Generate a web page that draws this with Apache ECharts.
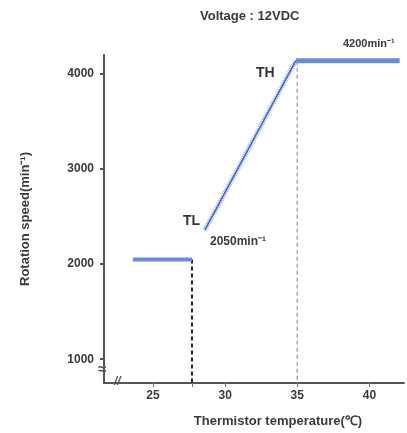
<!DOCTYPE html>
<html>
<head>
<meta charset="utf-8">
<script src="https://cdn.jsdelivr.net/npm/echarts@6/dist/echarts.min.js"></script>
<style>
  html, body { margin: 0; padding: 0; background: #fff; }
  #main { width: 407px; height: 433px; }
</style>
</head>
<body>
<div id="main"></div>
<script>
// temperature (℃) / rotation speed (min-1)
const lowTemp = [23.6, 27.7];
const lowSpeed = [2050, 2050];
const rampTemp = [28.6, 34.9];
const rampSpeed = [2360, 4140];
const highTemp = [34.9, 42.1];
const highSpeed = [4140, 4140];
const tlTemp = 27.7;
const thTemp = 35;
const xTicks = [25, 30, 35, 40];
const yTicks = [1000, 2000, 3000, 4000];

const pairs = (xs, ys) => xs.map((x, i) => [x, ys[i]]);
const font = "'Liberation Sans', Arial, sans-serif";
const textColor = '#3a3a3a';

const chart = echarts.init(document.getElementById('main'));
const option = {
  animation: false,
  grid: { left: 104, right: 3, top: 55, bottom: 50 },
  xAxis: {
    type: 'value',
    min: 21.6,
    max: 42.4,
    splitLine: { show: false },
    axisLine: { lineStyle: { color: '#555', width: 2 } },
    axisTick: { customValues: xTicks.concat([tlTemp]), length: 4, lineStyle: { color: '#777' } },
    axisLabel: { customValues: xTicks, color: textColor, fontSize: 12, fontWeight: 'bold', fontFamily: font, margin: 7 },
    name: 'Thermistor temperature(℃)',
    nameLocation: 'middle',
    nameGap: 32,
    nameTextStyle: { color: textColor, fontSize: 13, fontWeight: 'bold', fontFamily: font, padding: [0, 0, 0, 48] }
  },
  yAxis: {
    type: 'value',
    min: 750,
    max: 4200,
    splitLine: { show: false },
    axisLine: { lineStyle: { color: '#555', width: 2 } },
    axisTick: { customValues: yTicks, length: 4, lineStyle: { color: '#555', width: 2 } },
    axisLabel: {
      customValues: yTicks,
      formatter: (v) => String(v),
      color: textColor, fontSize: 12, fontWeight: 'bold', fontFamily: font, margin: 10
    },
    name: 'Rotation speed(min⁻¹)',
    nameLocation: 'middle',
    nameGap: 72,
    nameTextStyle: { color: textColor, fontSize: 13, fontWeight: 'bold', fontFamily: font }
  },
  series: [
    {
      type: 'line',
      data: pairs([tlTemp, tlTemp], [lowSpeed[1], 750]),
      symbol: 'none',
      lineStyle: { color: '#222', width: 2, type: [4, 3] }
    },
    {
      type: 'line',
      data: pairs([thTemp, thTemp], [highSpeed[0], 750]),
      symbol: 'none',
      lineStyle: { color: '#aaa', width: 1.5, type: [4, 3] }
    },
    {
      type: 'line',
      data: pairs(lowTemp, lowSpeed),
      symbol: 'none',
      lineStyle: { color: '#6c8bd5', width: 4 }
    },
    {
      type: 'line',
      data: pairs(highTemp, highSpeed),
      symbol: 'none',
      lineStyle: { color: '#6c8bd5', width: 5 }
    },
    {
      type: 'line',
      data: pairs(rampTemp, rampSpeed),
      symbol: 'none',
      lineStyle: { color: '#9fb2e4', width: 5, type: [1, 1] }
    },
    {
      type: 'line',
      data: pairs(rampTemp, rampSpeed),
      symbol: 'none',
      lineStyle: { color: '#4565c4', width: 1.5 }
    }
  ],
  graphic: [
    { type: 'text', left: 200, top: 10, style: { text: 'Voltage : 12VDC', fill: textColor, font: 'bold 13px ' + font } },
    { type: 'text', left: 343, top: 38, style: { text: '4200min⁻¹', fill: textColor, font: 'bold 11px ' + font } },
    { type: 'text', left: 256, top: 66, style: { text: 'TH', fill: '#333', font: 'bold 14px ' + font } },
    { type: 'text', left: 183, top: 214, style: { text: 'TL', fill: '#333', font: 'bold 14px ' + font } },
    { type: 'text', left: 210, top: 236, style: { text: '2050min⁻¹', fill: textColor, font: 'bold 12px ' + font } },
    { type: 'text', left: 114, top: 376, style: { text: '//', fill: '#555', font: 'italic bold 12px ' + font } },
    { type: 'text', left: 98, top: 362, style: { text: '≈', fill: '#555', font: 'bold 15px ' + font } }
  ]
};
chart.setOption(option);
</script>
</body>
</html>
